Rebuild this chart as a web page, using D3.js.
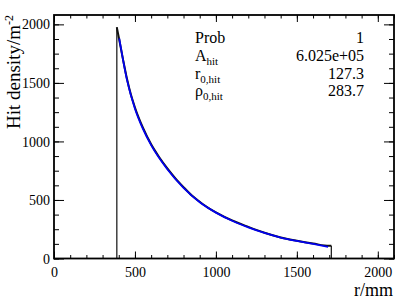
<!DOCTYPE html>
<html><head><meta charset="utf-8">
<script src="https://cdn.jsdelivr.net/npm/d3@7"></script>
<style>html,body{margin:0;padding:0;background:#fff;}svg{display:block;}</style>
</head><body>
<script>
// ---- data ----
const histEdges = [388, 1713];           // first / last bin edge (mm)
const histR = [388, 400, 425, 450, 475, 500, 550, 600, 650, 700, 750, 800, 850, 900, 950, 1000, 1100, 1200, 1300, 1400, 1500, 1600, 1700, 1713];
const histV = [1975, 1890, 1710, 1540, 1400, 1290, 1115, 975, 865, 770, 685, 610, 540, 485, 435, 395, 325, 270, 220, 180, 152, 128, 108, 108];
const fitR = [403, 450, 500, 550, 600, 700, 800, 900, 1000, 1100, 1200, 1300, 1400, 1500, 1600, 1693];
const fitV = [1880, 1530, 1280, 1105, 968, 762, 603, 480, 392, 322, 266, 218, 179, 150, 125, 100];
const xTicks = [0, 500, 1000, 1500, 2000];
const yTicks = [0, 500, 1000, 1500, 2000];
const statNames = [["Prob", ""], ["A", "hit"], ["r", "0,hit"], ["\u03C1", "0,hit"]];
const statValues = ["1", "6.025e+05", "127.3", "283.7"];

const W = 415, H = 298;
const svg = d3.select("body").append("svg").attr("width", W).attr("height", H);
const L = 54, R = 394, T = 15, B = 258.5;
const x = d3.scaleLinear().domain([0, 2100]).range([L, R]);
const y = d3.scaleLinear().domain([0, 2080]).range([B, T]);
const font = "'Liberation Serif','Times New Roman',serif";

// ---- axes (ROOT style, ticks inside) ----
const xMinor = d3.range(0, 2101, 100);
const yMinor = d3.range(0, 2081, 125);
const axB = d3.axisBottom(x).tickValues(xTicks).tickSize(-7).tickFormat(d3.format("d")).tickPadding(8.5);
const axT = d3.axisTop(x).tickValues(xTicks).tickSize(-7).tickFormat("");
const axL = d3.axisLeft(y).tickValues(yTicks).tickSize(-10).tickFormat(d3.format("d")).tickPadding(4);
const axR = d3.axisRight(y).tickValues(yTicks).tickSize(-10).tickFormat("");
const mB = d3.axisBottom(x).tickValues(xMinor).tickSize(-3.5).tickFormat("");
const mT = d3.axisTop(x).tickValues(xMinor).tickSize(-3.5).tickFormat("");
const mL = d3.axisLeft(y).tickValues(yMinor).tickSize(-5).tickFormat("");
const mR = d3.axisRight(y).tickValues(yMinor).tickSize(-5).tickFormat("");

function put(ax, tr) {
  const g = svg.append("g").attr("transform", tr).call(ax);
  g.select(".domain").remove();
  g.selectAll("line").attr("stroke", "#000").attr("stroke-width", 1);
  g.selectAll("text").attr("font-family", font).attr("font-size", 14).attr("fill", "#000");
  return g;
}
put(mB, `translate(0,${B})`); put(mT, `translate(0,${T})`);
put(mL, `translate(${L},0)`); put(mR, `translate(${R},0)`);
const gB = put(axB, `translate(0,${B})`);
put(axT, `translate(0,${T})`);
const gL = put(axL, `translate(${L},0)`);
gL.selectAll("text").attr("dy", "0.33em");
put(axR, `translate(${R},0)`);

// ---- histogram (black) ----
const histPts = histR.map((r, i) => [r, histV[i]]);
const lineC = d3.line().x(d => x(d[0])).y(d => y(d[1])).curve(d3.curveMonotoneX);
const lineL = d3.line().x(d => x(d[0])).y(d => y(d[1]));
svg.append("path").attr("d", lineL([[histEdges[0], 0], [histEdges[0], histV[0]]]))
  .attr("fill", "none").attr("stroke", "#222").attr("stroke-width", 1.3);
svg.append("path").attr("d", lineL([[histEdges[1], histV[histV.length - 1]], [histEdges[1], 0]]))
  .attr("fill", "none").attr("stroke", "#222").attr("stroke-width", 1.3);
svg.append("path").attr("d", lineC(histPts))
  .attr("fill", "none").attr("stroke", "#111").attr("stroke-width", 2);

// ---- fit (blue) ----
const fitPts = fitR.map((r, i) => [r, fitV[i]]);
svg.append("path").attr("d", lineC(fitPts))
  .attr("fill", "none").attr("stroke", "#0000ee").attr("stroke-width", 1.8);

// ---- frame ----
svg.append("rect").attr("x", L).attr("y", T).attr("width", R - L).attr("height", B - T)
  .attr("fill", "none").attr("stroke", "#000").attr("stroke-width", 1.8);

// ---- stats text ----
const rowY = [43, 61, 78.5, 96];
statNames.forEach((s, i) => {
  const t = svg.append("text").attr("x", 195).attr("y", rowY[i])
    .attr("font-family", font).attr("font-size", 16).attr("fill", "#000");
  t.append("tspan").text(s[0]);
  if (s[1]) t.append("tspan").attr("font-size", 11).attr("dy", 4).text(s[1]);
  svg.append("text").attr("x", 364).attr("y", rowY[i]).attr("text-anchor", "end")
    .attr("font-family", font).attr("font-size", 16).attr("fill", "#000").text(statValues[i]);
});

// ---- axis titles ----
svg.append("text").attr("x", 393).attr("y", 295.5).attr("text-anchor", "end")
  .attr("font-family", font).attr("font-size", 18).attr("fill", "#000").text("r/mm");
const yt = svg.append("text").attr("transform", "translate(19.5,15) rotate(-90)")
  .attr("text-anchor", "end").attr("font-family", font).attr("font-size", 19).attr("fill", "#000");
yt.append("tspan").text("Hit density/m");
yt.append("tspan").attr("font-size", 12).attr("dy", -7).text("-2");
</script>
</body></html>
